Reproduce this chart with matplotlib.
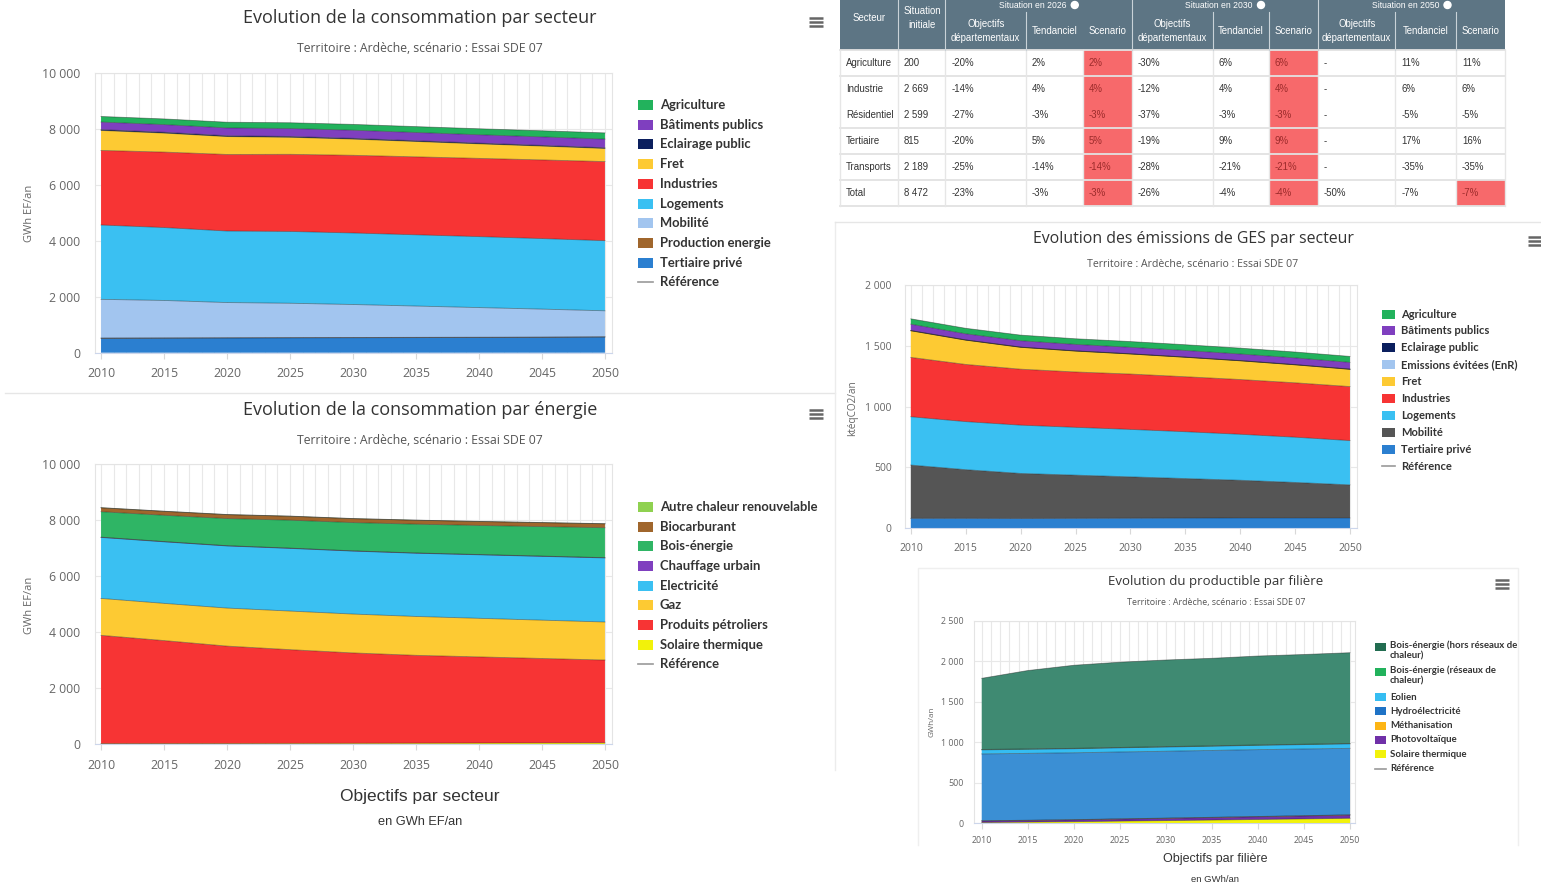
import numpy as np
import matplotlib.pyplot as plt
from matplotlib.patches import Rectangle, Circle
from matplotlib.ticker import FuncFormatter

plt.rcParams['font.family'] = ['Open Sans', 'DejaVu Sans']

W, H = 1541, 885

# ---------- données ----------
years = [2010, 2015, 2020, 2025, 2030, 2035, 2040, 2045, 2050]

# consommation par secteur (GWh EF/an)
sect_tertiaire = [515, 520, 525, 530, 535, 540, 545, 550, 560]
sect_production = [10, 10, 10, 10, 10, 10, 10, 10, 10]
sect_mobilite = [1385, 1340, 1260, 1230, 1180, 1120, 1060, 1000, 930]
sect_logements = [2660, 2610, 2560, 2570, 2560, 2550, 2540, 2525, 2510]
sect_industries = [2670, 2700, 2740, 2760, 2780, 2790, 2800, 2815, 2830]
sect_fret = [715, 680, 640, 610, 580, 550, 520, 495, 470]
sect_eclairage = [30, 30, 30, 29, 28, 27, 26, 25, 25]
sect_batiments = [270, 275, 280, 285, 290, 295, 300, 305, 310]
sect_agriculture = [200, 202, 204, 206, 208, 210, 214, 218, 222]

# consommation par énergie (GWh EF/an)
en_solaire = [15, 18, 20, 23, 26, 30, 34, 38, 42]
en_petrole = [3870, 3680, 3480, 3350, 3230, 3140, 3080, 3020, 2960]
en_gaz = [1320, 1330, 1360, 1380, 1390, 1390, 1380, 1370, 1360]
en_elec = [2180, 2200, 2220, 2240, 2250, 2260, 2270, 2280, 2290]
en_chauffage = [10, 10, 10, 10, 10, 10, 10, 10, 10]
en_bois = [910, 940, 970, 1000, 1010, 1030, 1040, 1055, 1070]
en_biocarb = [140, 140, 140, 140, 140, 140, 140, 140, 140]
en_autre = [5, 5, 5, 5, 5, 5, 5, 5, 5]

# émissions GES (ktéqCO2/an)
ges_tertiaire = [82, 82, 81, 82, 83, 84, 85, 85, 85]
ges_mobilite = [438, 400, 370, 355, 340, 325, 310, 292, 272]
ges_logements = [397, 395, 397, 393, 390, 385, 378, 372, 364]
ges_industries = [488, 470, 460, 455, 455, 452, 450, 447, 444]
ges_fret = [219, 200, 180, 172, 165, 160, 154, 148, 142]
ges_evitees = [0, 0, 0, 0, 0, 0, 0, 0, 0]
ges_eclairage = [2, 2, 2, 2, 2, 2, 2, 2, 2]
ges_batiments = [52, 50, 52, 53, 53, 54, 54, 55, 55]
ges_agriculture = [44, 45, 46, 46, 47, 47, 48, 48, 49]

# productible par filière (GWh/an)
prod_solaire = [10, 15, 20, 27, 33, 40, 47, 54, 62]
prod_pv = [18, 20, 22, 25, 28, 31, 34, 37, 40]
prod_metha = [3, 3, 3, 3, 3, 3, 3, 3, 3]
prod_hydro = [825, 825, 825, 825, 825, 825, 825, 823, 820]
prod_eolien = [50, 50, 50, 51, 52, 52, 53, 54, 55]
prod_bois_res = [5, 5, 5, 5, 5, 5, 5, 5, 5]
prod_bois_hors = [878, 967, 1025, 1052, 1069, 1080, 1097, 1107, 1120]

# tableau des objectifs
tab_secteurs = ["Agriculture", "Industrie", "Résidentiel", "Tertiaire", "Transports", "Total"]
tab_initiale = ["200", "2 669", "2 599", "815", "2 189", "8 472"]
tab_obj_2026 = ["-20%", "-14%", "-27%", "-20%", "-25%", "-23%"]
tab_tend_2026 = ["2%", "4%", "-3%", "5%", "-14%", "-3%"]
tab_scen_2026 = ["2%", "4%", "-3%", "5%", "-14%", "-3%"]
tab_obj_2030 = ["-30%", "-12%", "-37%", "-19%", "-28%", "-26%"]
tab_tend_2030 = ["6%", "4%", "-3%", "9%", "-21%", "-4%"]
tab_scen_2030 = ["6%", "4%", "-3%", "9%", "-21%", "-4%"]
tab_obj_2050 = ["-", "-", "-", "-", "-", "-50%"]
tab_tend_2050 = ["11%", "6%", "-5%", "17%", "-35%", "-7%"]
tab_scen_2050 = ["11%", "6%", "-5%", "16%", "-35%", "-7%"]
tab_groupes = ["Situation en 2026", "Situation en 2030", "Situation en 2050"]

# couleurs
C_AGRI, C_BAT, C_ECL = "#22b25c", "#7f3fbf", "#0b1f5e"
C_FRET, C_IND, C_LOG = "#fdca33", "#f73434", "#3ac0f2"
C_MOB, C_PROD, C_TER = "#a2c5ef", "#a0662c", "#2b7fd0"
C_GRIS = "#555555"
C_SOL = "#f2f20a"

fig = plt.figure(figsize=(W / 100, H / 100), dpi=100)
fig.patch.set_facecolor("white")

ov = fig.add_axes([0, 0, 1, 1])
ov.set_xlim(0, W)
ov.set_ylim(H, 0)
ov.axis("off")

fmt = FuncFormatter(lambda v, p: f"{int(v):,}".replace(",", " "))


def add_ax(x0, x1, ytop, ybot):
    return fig.add_axes([x0 / W, 1 - ybot / H, (x1 - x0) / W, (ybot - ytop) / H])


def area_chart(ax, series, colors, xlim, ymax, ystep, fs, ypad, xpad):
    ax.stackplot(years, *series, colors=colors, lw=0, zorder=2)
    for t in np.cumsum(series, axis=0):
        ax.plot(years, t, color="#1a1a1a", lw=0.6, alpha=0.45, zorder=3)
    ax.set_xlim(*xlim)
    ax.set_ylim(0, ymax)
    ax.set_xticks(range(2010, 2051, 5))
    ax.set_xticks(range(2010, 2051), minor=True)
    ax.set_yticks(np.arange(0, ymax + 1, ystep))
    ax.yaxis.set_major_formatter(fmt)
    ax.grid(which="both", axis="x", color="#e8e8e8", lw=0.8, zorder=0)
    ax.grid(which="major", axis="y", color="#e8e8e8", lw=0.8, zorder=0)
    ax.set_axisbelow(True)
    ax.tick_params(axis="y", length=0, pad=ypad, labelsize=fs, labelcolor="#666666")
    ax.tick_params(axis="x", which="major", length=4, color="#d8d8d8", pad=xpad,
                   labelsize=fs, labelcolor="#666666")
    ax.tick_params(axis="x", which="minor", length=0)
    for s in ax.spines.values():
        s.set_color("#e4e4e4")
        s.set_linewidth(0.8)
    ax.spines["bottom"].set_color("#ccd6eb")


def legend(x, y0, dy, items, fs, sw=15, sh=10, tx=22):
    y = y0
    fpx = fs * 100 / 72
    for lab, col in items:
        if col is None:
            ov.plot([x, x + sw], [y, y], color="#999999", lw=1.2)
        else:
            ov.add_patch(Rectangle((x, y - sh / 2), sw, sh, color=col, lw=0))
        if "\n" in lab:
            ov.text(x + tx, y - 0.68 * fpx, lab, fontsize=fs, fontweight="bold", color="#333333",
                    va="top", ha="left", family=["Lato", "DejaVu Sans"], linespacing=1.2)
            y += dy * 1.75
        else:
            ov.text(x + tx, y, lab, fontsize=fs, fontweight="bold", color="#333333",
                    va="center", ha="left", family=["Lato", "DejaVu Sans"])
            y += dy


def menu(x, y):
    for dy in (-4, 0, 4):
        ov.plot([x - 7, x + 7], [y + dy, y + dy], color="#666666", lw=1.8,
                solid_capstyle="butt")


def titles(cx, y1, t1, fs1, y2, fs2):
    ov.text(cx, y1, t1, fontsize=fs1, color="#333333", ha="center", va="center")
    ov.text(cx, y2, "Territoire : Ardèche, scénario : Essai SDE 07", fontsize=fs2,
            color="#555555", ha="center", va="center")


# ---------- séparateurs de panneaux ----------
ov.plot([5, 835], [393, 393], color="#e6e6e6", lw=1)
ov.plot([835, 835], [222, 770], color="#ececec", lw=1)
ov.plot([835, W], [222, 222], color="#e6e6e6", lw=1)
ov.plot([918, 918, 1518, 1518], [845, 568, 568, 845], color="#efefef", lw=1)

# ---------- graphique 1 : consommation par secteur ----------
ax1 = add_ax(95, 612, 73.3, 352.7)
area_chart(ax1,
           [sect_tertiaire, sect_production, sect_mobilite, sect_logements, sect_industries,
            sect_fret, sect_eclairage, sect_batiments, sect_agriculture],
           [C_TER, C_PROD, C_MOB, C_LOG, C_IND, C_FRET, C_ECL, C_BAT, C_AGRI],
           (2009.52, 2050.56), 10000, 2000, 8.8, 10.5, 6.5)
titles(420, 18, "Evolution de la consommation par secteur", 13, 48, 8.8)
ov.text(30, 213, "GWh EF/an", rotation=90, fontsize=8, color="#666666", ha="center", va="center")
menu(816, 22)
legend(638, 105, 19.7,
       [("Agriculture", C_AGRI), ("Bâtiments publics", C_BAT), ("Eclairage public", C_ECL),
        ("Fret", C_FRET), ("Industries", C_IND), ("Logements", C_LOG), ("Mobilité", C_MOB),
        ("Production energie", C_PROD), ("Tertiaire privé", C_TER), ("Référence", None)], 9.4)

# ---------- graphique 2 : consommation par énergie ----------
ax2 = add_ax(95, 612, 464.3, 744)
area_chart(ax2,
           [en_solaire, en_petrole, en_gaz, en_elec, en_chauffage, en_bois, en_biocarb, en_autre],
           [C_SOL, C_IND, C_FRET, C_LOG, C_BAT, "#2fb565", C_PROD, "#8fd150"],
           (2009.52, 2050.56), 10000, 2000, 8.8, 10.5, 6.5)
titles(420, 410, "Evolution de la consommation par énergie", 13, 440, 8.8)
ov.text(30, 605, "GWh EF/an", rotation=90, fontsize=8, color="#666666", ha="center", va="center")
menu(816, 414)
legend(638, 507, 19.67,
       [("Autre chaleur renouvelable", "#8fd150"), ("Biocarburant", C_PROD),
        ("Bois-énergie", "#2fb565"), ("Chauffage urbain", C_BAT), ("Electricité", C_LOG),
        ("Gaz", C_FRET), ("Produits pétroliers", C_IND), ("Solaire thermique", C_SOL),
        ("Référence", None)], 9.4)
ov.text(420, 796, "Objectifs par secteur", fontsize=12.5, color="#333333", ha="center",
        va="center", family=["Liberation Sans", "DejaVu Sans"])
ov.text(420, 822, "en GWh EF/an", fontsize=9.2, color="#333333", ha="center",
        va="center", family=["Liberation Sans", "DejaVu Sans"])

# ---------- graphique 3 : émissions GES ----------
ax3 = add_ax(905, 1357, 285, 528.3)
area_chart(ax3,
           [ges_tertiaire, ges_mobilite, ges_logements, ges_industries, ges_fret,
            ges_evitees, ges_eclairage, ges_batiments, ges_agriculture],
           [C_TER, C_GRIS, C_LOG, C_IND, C_FRET, C_MOB, C_ECL, C_BAT, C_AGRI],
           (2009.47, 2050.64), 2000, 500, 7.5, 9.5, 6.5)
titles(1193, 239, "Evolution des émissions de GES par secteur", 11.4, 265, 7.6)
ov.text(853, 408, "ktéqCO2/an", rotation=90, fontsize=7.2, color="#666666", ha="center", va="center")
menu(1535, 241)
legend(1382, 314, 16.9,
       [("Agriculture", C_AGRI), ("Bâtiments publics", C_BAT), ("Eclairage public", C_ECL),
        ("Emissions évitées (EnR)", C_MOB), ("Fret", C_FRET), ("Industries", C_IND),
        ("Logements", C_LOG), ("Mobilité", C_GRIS), ("Tertiaire privé", C_TER),
        ("Référence", None)], 8.0, sw=13, sh=9, tx=19)

# ---------- graphique 4 : productible par filière ----------
ax4 = add_ax(974, 1355, 620.7, 823.3)
area_chart(ax4,
           [prod_solaire, prod_pv, prod_metha, prod_hydro, prod_eolien, prod_bois_res, prod_bois_hors],
           [C_SOL, "#7030a8", "#fdb515", "#3b8fd4", "#35bdf2", C_AGRI, "#3f8a72"],
           (2009.16, 2050.54), 2500, 500, 6.4, 7.5, 5.5)
titles(1216, 581, "Evolution du productible par filière", 9.5, 603, 6.4)
ov.text(932, 722, "GWh/an", rotation=90, fontsize=5.8, color="#666666", ha="center", va="center")
menu(1502, 584)
legend(1375, 647, 14.3,
       [("Bois-énergie (hors réseaux de\nchaleur)", "#226d51"),
        ("Bois-énergie (réseaux de\nchaleur)", C_AGRI), ("Eolien", "#35bdf2"),
        ("Hydroélectricité", "#1f73c6"), ("Méthanisation", "#fdb515"),
        ("Photovoltaïque", "#7030a8"), ("Solaire thermique", C_SOL), ("Référence", None)],
       6.9, sw=11, sh=8, tx=15)
ov.text(1215, 859, "Objectifs par filière", fontsize=9, color="#333333", ha="center",
        va="center", family=["Liberation Sans", "DejaVu Sans"])
ov.text(1215, 879, "en GWh/an", fontsize=6.8, color="#333333", ha="center",
        va="center", family=["Liberation Sans", "DejaVu Sans"])

# ---------- tableau ----------
tfont = ["Liberation Sans", "DejaVu Sans"]
tfs = 6.9
col_x = [840, 898, 945.5, 1026, 1083, 1132, 1213, 1269, 1318, 1395.5, 1456, 1505]
row_y = [50, 76, 102, 128, 154, 180, 206]
columns = [tab_secteurs, tab_initiale,
           tab_obj_2026, tab_tend_2026, tab_scen_2026,
           tab_obj_2030, tab_tend_2030, tab_scen_2030,
           tab_obj_2050, tab_tend_2050, tab_scen_2050]

ov.add_patch(Rectangle((col_x[0], -14), col_x[-1] - col_x[0], 64, color="#5d7584", lw=0))
for i, (a, b) in enumerate(zip(col_x[:-1], col_x[1:])):
    for r in range(6):
        red = i in (4, 7) or (i == 10 and r == 5)
        if red:
            ov.add_patch(Rectangle((a, row_y[r]), b - a, row_y[r + 1] - row_y[r],
                                   color="#f7696b", lw=0))
        ov.text(a + 6, (row_y[r] + row_y[r + 1]) / 2, columns[i][r], fontsize=tfs,
                color="#9c2b2b" if red else "#333333", ha="left", va="center", family=tfont)

# lignes du corps
for r, y in enumerate(row_y):
    if r != 2:
        ov.plot([col_x[0], col_x[-1]], [y, y], color="#e2e2e2", lw=1.3)
for x in col_x:
    ov.plot([x, x], [50, 206], color="#e6e6e6", lw=1)

# en-têtes
ov.text(869, 18, "Secteur", fontsize=tfs, color="white", ha="center", va="center", family=tfont)
ov.text(922, 18, "Situation\ninitiale", fontsize=tfs, color="white", ha="center", va="center",
        family=tfont, linespacing=1.45)
subs = ["Objectifs\ndépartementaux", "Tendanciel", "Scenario"]
for g in range(3):
    a = col_x[2 + 3 * g]
    b = col_x[5 + 3 * g]
    ov.text((a + b) / 2 - 6, 5, tab_groupes[g], fontsize=6.2, color="white", ha="center",
            va="center", family=tfont)
    ov.add_patch(Circle(((a + b) / 2 + 36, 5), 3.5, color="white"))
    for k in range(3):
        c0, c1 = col_x[2 + 3 * g + k], col_x[3 + 3 * g + k]
        ov.text((c0 + c1) / 2, 31, subs[k], fontsize=tfs, color="white", ha="center",
                va="center", family=tfont, linespacing=1.45)
for x in [898, 945.5, 1132, 1318]:
    ov.plot([x, x], [-14, 50], color="#c9d2d8", lw=0.8)
for x in [1026, 1213, 1269, 1395.5, 1456]:
    ov.plot([x, x], [12, 50], color="#c9d2d8", lw=0.8)

fig.savefig("out.png", dpi=100)
